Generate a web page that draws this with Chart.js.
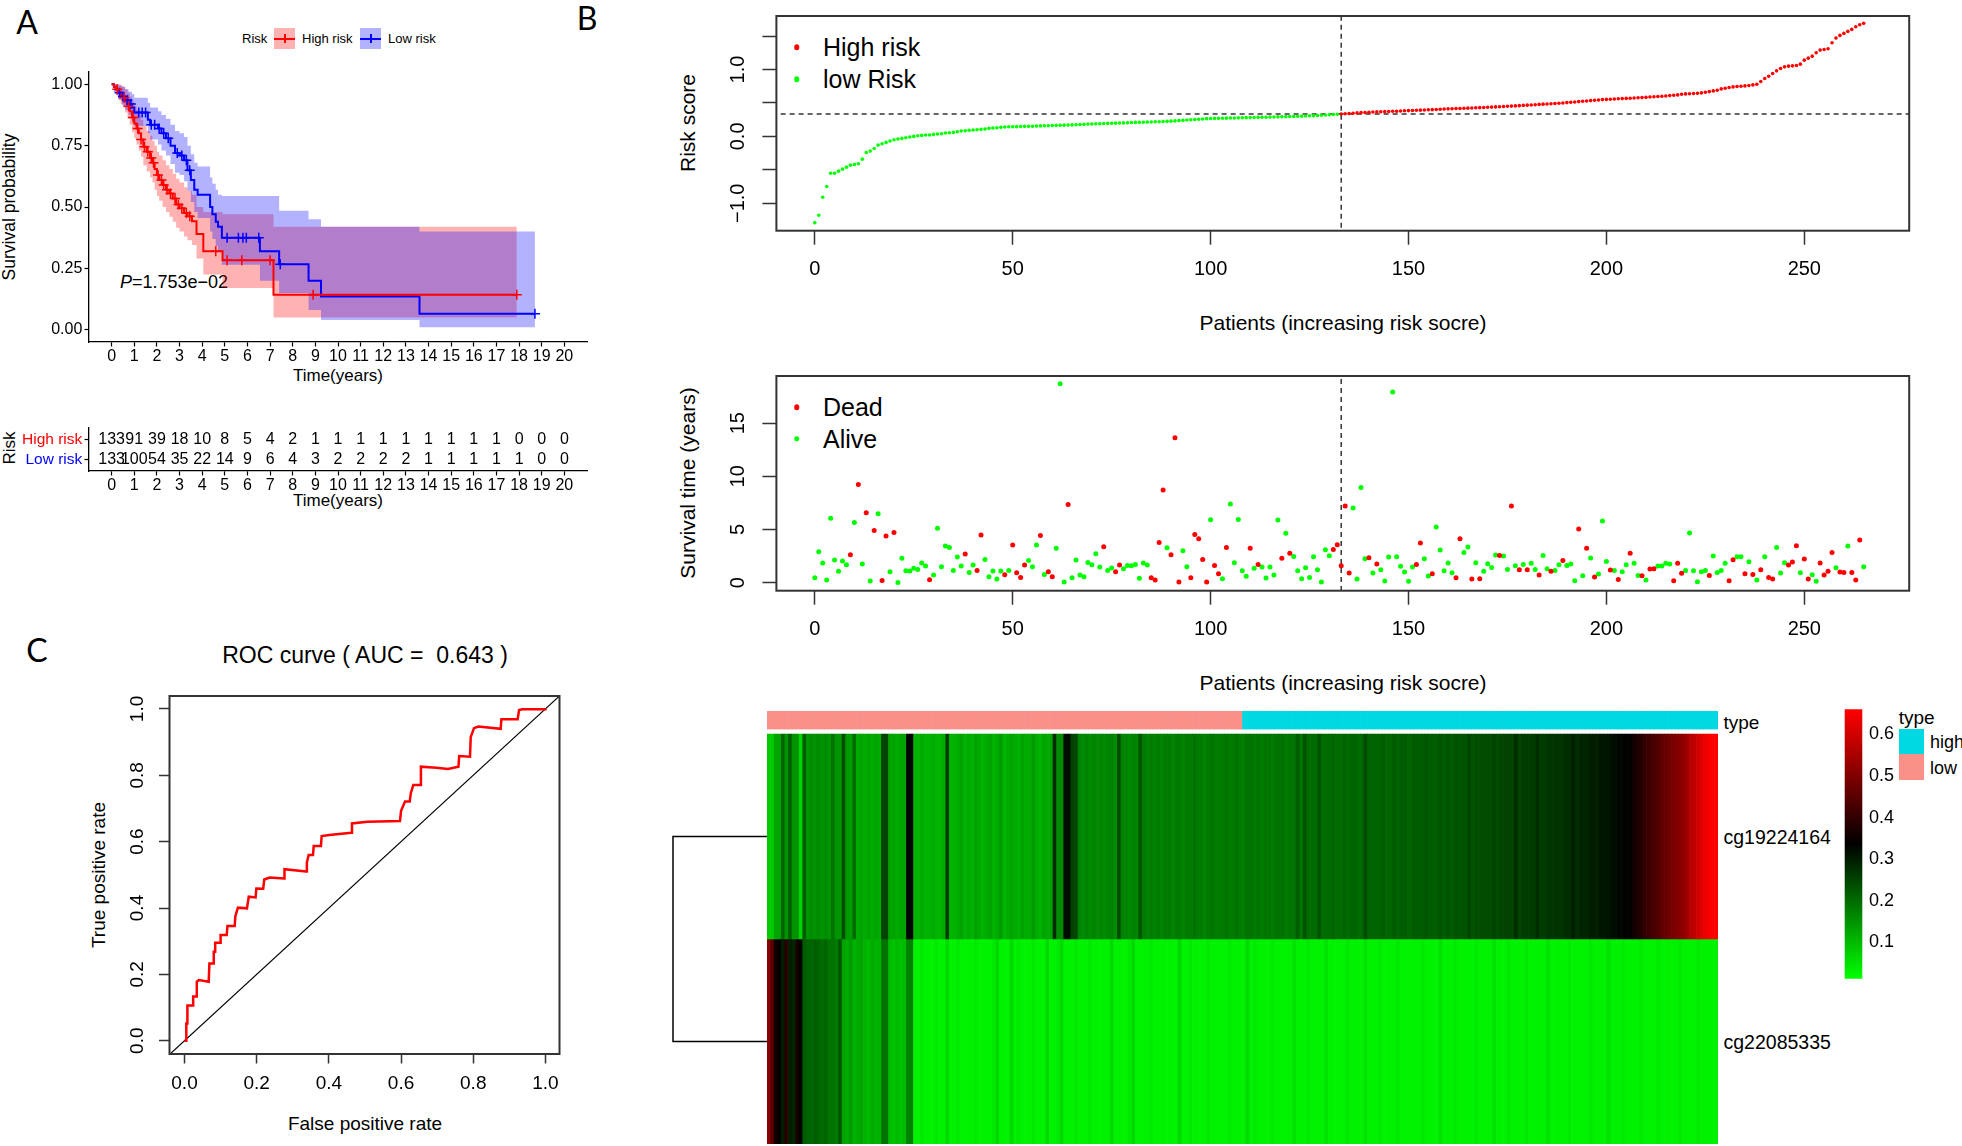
<!DOCTYPE html>
<html>
<head>
<meta charset="utf-8">
<title>Risk model figure</title>
<script src="https://cdn.jsdelivr.net/npm/chart.js@4.4.1/dist/chart.umd.min.js"></script>
<style>
  body { margin: 0; width: 1962px; height: 1146px; overflow: hidden; position: relative; background: #fff;
         font-family: "Liberation Sans", Arial, sans-serif; color: #000; }
  canvas { position: absolute; }
  .t { position: absolute; white-space: pre; line-height: 1; transform: translate(-50%, -50%); }
  .l { position: absolute; white-space: pre; line-height: 1; transform: translateY(-50%); }
  .v { position: absolute; white-space: pre; line-height: 1; transform: translate(-50%, -50%) rotate(-90deg); }
  .tag { position: absolute; font-family: Lato, "Open Sans", sans-serif; font-size: 32px; line-height: 1; transform: translate(-50%, -50%); }
  .sw { position: absolute; width: 21px; height: 21px; }
  .sw i { position: absolute; left: 0; right: 0; top: 9.5px; height: 2px; }
  .sw b { position: absolute; left: 9.5px; width: 2px; top: 6px; height: 9px; }
  .dot { position: absolute; width: 5.5px; height: 5.5px; border-radius: 50%; transform: translate(-50%, -50%); }
  .box { position: absolute; }
</style>
</head>
<body>
<!-- panel A -->
<div class="tag" style="left:27px;top:22px">A</div>
<div class="l" style="left:242px;top:38px;font-size:13px">Risk</div>
<div class="sw" style="left:274px;top:28px;background:rgba(255,0,0,.3)"><i style="background:#f00"></i><b style="background:#f00"></b></div>
<div class="l" style="left:302px;top:38px;font-size:13px">High risk</div>
<div class="sw" style="left:360px;top:28px;background:rgba(0,0,255,.3)"><i style="background:#00f"></i><b style="background:#00f"></b></div>
<div class="l" style="left:388px;top:38px;font-size:13px">Low risk</div>
<div class="v" style="left:10px;top:207px;font-size:17.5px">Survival probability</div>
<div class="t" style="left:338px;top:375px;font-size:17px">Time(years)</div>
<div class="l" style="left:120px;top:282px;font-size:18px"><i>P</i>=1.753e−02</div>
<div class="v" style="left:9px;top:448px;font-size:17px">Risk</div>
<div class="t" style="left:338px;top:500px;font-size:17px">Time(years)</div>

<!-- panel B -->
<div class="tag" style="left:587px;top:18px">B</div>
<div class="dot" style="left:796.5px;top:47.3px;background:#f00"></div>
<div class="l" style="left:823px;top:47px;font-size:25px">High risk</div>
<div class="dot" style="left:796.5px;top:79px;background:#0f0"></div>
<div class="l" style="left:823px;top:79px;font-size:25px">low Risk</div>
<div class="v" style="left:687px;top:123px;font-size:21px">Risk score</div>
<div class="t" style="left:1343px;top:322px;font-size:21px">Patients (increasing risk socre)</div>
<div class="dot" style="left:796.5px;top:407px;background:#f00"></div>
<div class="l" style="left:823px;top:407px;font-size:25px">Dead</div>
<div class="dot" style="left:796.5px;top:438.5px;background:#0f0"></div>
<div class="l" style="left:823px;top:439px;font-size:25px">Alive</div>
<div class="v" style="left:687px;top:483px;font-size:21px">Survival time (years)</div>
<div class="t" style="left:1343px;top:682px;font-size:21px">Patients (increasing risk socre)</div>

<div class="l" style="left:1723.5px;top:721.7px;font-size:19px">type</div>
<div class="l" style="left:1723.5px;top:838px;font-size:19.5px">cg19224164</div>
<div class="l" style="left:1723.5px;top:1042.7px;font-size:19.5px">cg22085335</div>
<div class="l" style="left:1898.7px;top:716.7px;font-size:19px">type</div>
<div class="box" style="left:1898.7px;top:729px;width:25.3px;height:25.3px;background:#00D8E2"></div>
<div class="box" style="left:1898.7px;top:754.3px;width:25.3px;height:25.7px;background:#FA9189"></div>
<div class="l" style="left:1930px;top:741.7px;font-size:18px">high</div>
<div class="l" style="left:1930px;top:768.3px;font-size:18px">low</div>

<!-- panel C -->
<div class="tag" style="left:37px;top:650px">C</div>
<div class="t" style="left:365px;top:655px;font-size:23px">ROC curve ( AUC =  0.643 )</div>
<div class="v" style="left:98px;top:875px;font-size:19px">True positive rate</div>
<div class="t" style="left:365px;top:1123px;font-size:19px">False positive rate</div>

<script>
// ---------- data ----------

// Kaplan-Meier, high risk group
const kmHighTime  = [0, 0.1, 0.2, 0.3, 0.4, 0.5, 0.6, 0.7, 0.8, 0.9,
                     1.0, 1.1, 1.2, 1.3, 1.4, 1.55, 1.7, 1.8, 1.9, 2.0,
                     2.1, 2.25, 2.4, 2.55, 2.7, 2.85, 3.0, 3.2, 3.35, 3.55,
                     3.75, 4.05, 4.9, 7.15, 17.9];
const kmHighSurv  = [1, 0.99, 0.98, 0.97, 0.955, 0.945, 0.93, 0.91, 0.89, 0.865,
                     0.84, 0.82, 0.8, 0.775, 0.745, 0.725, 0.7, 0.68, 0.655, 0.63,
                     0.61, 0.59, 0.57, 0.555, 0.535, 0.51, 0.495, 0.476, 0.462, 0.442,
                     0.39, 0.32, 0.283, 0.143, 0.143];
const kmHighUpper = [1, 1, 1, 1, 0.995, 0.99, 0.98, 0.965, 0.95, 0.93,
                     0.91, 0.895, 0.875, 0.855, 0.83, 0.81, 0.79, 0.77, 0.75, 0.725,
                     0.71, 0.69, 0.67, 0.655, 0.635, 0.615, 0.6, 0.58, 0.565, 0.55,
                     0.5, 0.48, 0.47, 0.42, 0.42];
const kmHighLower = [1, 0.97, 0.955, 0.94, 0.92, 0.905, 0.885, 0.86, 0.835, 0.805,
                     0.78, 0.755, 0.73, 0.705, 0.67, 0.645, 0.62, 0.6, 0.57, 0.545,
                     0.525, 0.5, 0.48, 0.46, 0.44, 0.415, 0.4, 0.38, 0.365, 0.345,
                     0.29, 0.225, 0.17, 0.05, 0.05];
const kmHighCensorT = [0.25, 0.55, 0.75, 0.95, 1.15, 1.3, 1.45, 1.6, 1.75, 1.85, 2.05, 2.2, 2.3,
                       2.45, 2.6, 2.8, 2.95, 3.1, 3.3, 3.45, 4.6, 5.1, 5.75, 7.0, 8.9, 17.9];
const kmHighCensorS = [0.98, 0.945, 0.91, 0.865, 0.82, 0.775, 0.745, 0.725, 0.7, 0.68, 0.63, 0.61, 0.59,
                       0.57, 0.555, 0.535, 0.51, 0.495, 0.476, 0.462, 0.32, 0.283, 0.283, 0.283, 0.143, 0.143];

// Kaplan-Meier, low risk group
const kmLowTime  = [0, 0.1, 0.2, 0.3, 0.45, 0.6, 0.75, 0.9, 1.0, 1.6,
                    1.7, 2.05, 2.2, 2.4, 2.6, 2.8, 3.0, 3.2, 3.35, 3.5,
                    3.65, 3.8, 4.35, 4.45, 4.6, 4.7, 4.87, 6.55, 7.4, 8.7,
                    9.25, 13.6, 18.7];
const kmLowSurv  = [1, 0.99, 0.98, 0.965, 0.95, 0.935, 0.92, 0.905, 0.885, 0.855,
                    0.835, 0.82, 0.8, 0.78, 0.75, 0.72, 0.71, 0.69, 0.65, 0.61,
                    0.57, 0.55, 0.5, 0.47, 0.44, 0.42, 0.375, 0.32, 0.267, 0.2,
                    0.135, 0.065, 0.065];
const kmLowUpper = [1, 1, 1, 0.995, 0.99, 0.98, 0.97, 0.96, 0.945, 0.925,
                    0.905, 0.89, 0.875, 0.86, 0.835, 0.81, 0.8, 0.785, 0.75, 0.715,
                    0.68, 0.665, 0.62, 0.595, 0.57, 0.55, 0.545, 0.545, 0.485, 0.45,
                    0.42, 0.4, 0.4];
const kmLowLower = [1, 0.97, 0.955, 0.935, 0.915, 0.895, 0.875, 0.855, 0.83, 0.8,
                    0.775, 0.755, 0.73, 0.71, 0.675, 0.64, 0.63, 0.605, 0.565, 0.52,
                    0.48, 0.455, 0.4, 0.37, 0.34, 0.32, 0.265, 0.2, 0.15, 0.08,
                    0.04, 0.01, 0.01];
const kmLowCensorT = [0.35, 0.5, 0.7, 0.85, 1.2, 1.35, 1.5, 1.75, 1.9, 2.1, 2.3, 2.5,
                      2.9, 3.1, 3.3, 3.45, 5.1, 5.6, 5.8, 5.95, 6.5, 7.45, 18.7];
const kmLowCensorS = [0.965, 0.95, 0.935, 0.92, 0.885, 0.885, 0.885, 0.835, 0.835, 0.82, 0.8, 0.78,
                      0.72, 0.71, 0.69, 0.65, 0.375, 0.375, 0.375, 0.375, 0.375, 0.267, 0.065];

// number at risk
const yearTicks  = [0, 1, 2, 3, 4, 5, 6, 7, 8, 9, 10, 11, 12, 13, 14, 15, 16, 17, 18, 19, 20];
const riskRows   = ['High risk', 'Low risk'];
const highAtRisk = [133, 91, 39, 18, 10, 8, 5, 4, 2, 1, 1, 1, 1, 1, 1, 1, 1, 1, 0, 0, 0];
const lowAtRisk  = [133, 100, 54, 35, 22, 14, 9, 6, 4, 3, 2, 2, 2, 2, 1, 1, 1, 1, 1, 0, 0];

// risk score per patient, sorted (first 133 are low risk)
const lowCount = 133;
const riskCutoff = 0.333;
const riskScore = [
  -1.29, -1.18, -0.91, -0.75, -0.55, -0.55, -0.52, -0.49, -0.46, -0.43,
  -0.42, -0.41, -0.34, -0.24, -0.22, -0.18, -0.13, -0.11, -0.09, -0.07,
  -0.05, -0.04, -0.03, -0.02, -0.01, 0, 0.01, 0.015, 0.02, 0.02,
  0.03, 0.035, 0.04, 0.05, 0.055, 0.06, 0.07, 0.08, 0.085, 0.09,
  0.095, 0.1, 0.105, 0.11, 0.12, 0.125, 0.13, 0.135, 0.14, 0.145,
  0.145, 0.146, 0.148, 0.15, 0.15, 0.152, 0.155, 0.157, 0.158, 0.16,
  0.162, 0.164, 0.166, 0.168, 0.17, 0.172, 0.175, 0.178, 0.18, 0.185,
  0.186, 0.188, 0.19, 0.192, 0.194, 0.196, 0.198, 0.2, 0.202, 0.205,
  0.207, 0.209, 0.21, 0.212, 0.214, 0.216, 0.218, 0.22, 0.222, 0.225,
  0.228, 0.232, 0.236, 0.24, 0.244, 0.248, 0.252, 0.256, 0.26, 0.265,
  0.267, 0.269, 0.27, 0.272, 0.273, 0.274, 0.275, 0.277, 0.278, 0.28,
  0.281, 0.283, 0.284, 0.286, 0.287, 0.289, 0.29, 0.292, 0.293, 0.295,
  0.297, 0.299, 0.301, 0.303, 0.305, 0.308, 0.31, 0.313, 0.316, 0.319,
  0.323, 0.327, 0.331,
  0.335, 0.339, 0.343, 0.347, 0.351, 0.355, 0.358,
  0.361, 0.364, 0.366, 0.368, 0.37, 0.372, 0.375, 0.377, 0.38, 0.383,
  0.386, 0.388, 0.39, 0.392, 0.395, 0.398, 0.4, 0.403, 0.406, 0.41,
  0.412, 0.414, 0.416, 0.418, 0.42, 0.422, 0.425, 0.428, 0.43, 0.433,
  0.436, 0.438, 0.441, 0.444, 0.447, 0.45, 0.453, 0.456, 0.46, 0.463,
  0.467, 0.47, 0.474, 0.478, 0.482, 0.485, 0.489, 0.492, 0.496, 0.5,
  0.505, 0.51, 0.515, 0.52, 0.525, 0.53, 0.535, 0.54, 0.545, 0.55,
  0.553, 0.556, 0.559, 0.562, 0.565, 0.568, 0.571, 0.574, 0.577, 0.58,
  0.584, 0.588, 0.592, 0.596, 0.6, 0.605, 0.61, 0.615, 0.62, 0.63,
  0.635, 0.638, 0.642, 0.646, 0.65, 0.66, 0.67, 0.68, 0.69, 0.71,
  0.72, 0.73, 0.74, 0.745, 0.75, 0.755, 0.76, 0.77, 0.78, 0.82,
  0.865, 0.9, 0.94, 0.98, 1.015, 1.04, 1.05, 1.055, 1.06, 1.08,
  1.14, 1.17, 1.2, 1.25, 1.29, 1.3, 1.31, 1.4, 1.47, 1.51,
  1.54, 1.57, 1.6, 1.64, 1.67, 1.69
];

// survival time (years) and status (1 = dead) in the same patient order
const survTime = [
  0.47, 2.91, 1.85, 0.25, 6.05, 2.13, 1.07, 2.04, 1.69, 2.63,
  5.67, 9.24, 1.75, 6.58, 0.16, 4.92, 6.48, 0.22, 4.39, 1.03,
  4.73, 0.03, 2.29, 1.13, 1.1, 1.35, 1.25, 1.85, 1.57, 0.28,
  0.72, 5.11, 1.5, 3.45, 3.32, 1.16, 2.41, 1.57, 2.69, 0.97,
  1.66, 1.16, 4.48, 2.19, 0.56, 1.1, 0.34, 1.1, 0.75, 1.16,
  3.54, 0.94, 0.5, 1.66, 2.1, 1.5, 3.54, 4.45, 0.78, 1.03,
  0.56, 3.23, 18.7, 0.06, 7.36, 0.47, 2.13, 0.72, 0.56, 1.91,
  1.69, 2.73, 1.47, 3.38, 1.16, 1.38, 1.03, 1.66, 1.32, 1.63,
  1.6, 1.72, 0.41, 1.85, 1.66, 0.47, 0.25, 3.79, 8.71, 3.29,
  2.63, 13.63, 0.06, 3.0, 1.5, 0.47, 4.54, 4.14, 2.19, 0.06,
  5.92, 1.63, 0.85, 0.38, 3.32, 7.39, 1.88, 5.95, 1.13, 0.6,
  3.23, 1.35, 1.72, 1.47, 0.44, 1.47, 0.72, 5.89, 2.29, 4.64,
  2.76, 2.47, 1.13, 0.38, 1.41, 0.5, 2.44, 1.22, 0.06, 3.1,
  2.54, 3.13, 3.57, 1.6, 7.21, 0.91, 7.02, 0.34, 8.96, 2.26,
  2.35, 0.91, 1.75, 1.22, 0.16, 2.41, 17.92, 2.44, 1.54, 1.0,
  0.13, 1.47, 1.72, 3.73, 2.26, 0.63, 0.85, 5.23, 3.07, 1.13,
  1.85, 0.94, 0.47, 4.14, 2.85, 3.35, 0.34, 1.88, 0.38, 1.07,
  1.79, 1.44, 2.6, 2.57, 2.5, 1.25, 7.21, 1.6, 1.22, 1.72,
  1.22, 1.82, 1.25, 0.72, 2.57, 1.32, 1.07, 1.16, 1.69, 2.1,
  1.63, 1.75, 0.19, 5.04, 0.66, 3.23, 2.32, 0.53, 0.81, 5.8,
  2.0, 1.19, 1.16, 0.31, 1.03, 1.69, 2.76, 1.82, 0.69, 0.66,
  0.25, 1.28, 1.32, 1.57, 1.57, 1.82, 1.75, 0.19, 1.82, 0.88,
  1.16, 4.67, 1.13, 0.09, 1.03, 1.16, 0.69, 2.51, 0.97, 1.16,
  1.82, 0.19, 2.16, 2.44, 2.44, 0.85, 1.97, 0.78, 0.25, 1.22,
  2.44, 0.5, 0.34, 3.32, 0.91, 1.88, 1.66, 1.94, 3.48, 0.94,
  2.22, 0.34, 0.75, 0.13, 1.85, 0.72, 1.07, 2.85, 1.41, 1.0,
  0.97, 3.45, 0.97, 0.25, 4.01, 1.5
];
const survStatus = [
  0, 0, 0, 0, 0, 0, 0, 0, 0, 1,  0, 1, 0, 1, 0, 1, 0, 1, 1, 0,
  1, 0, 0, 0, 0, 0, 0, 0, 0, 1,  0, 0, 0, 0, 0, 0, 0, 0, 1, 0,
  0, 1, 1, 0, 0, 0, 0, 0, 1, 0,  1, 1, 1, 1, 0, 0, 0, 1, 0, 1,
  1, 0, 0, 0, 1, 0, 0, 0, 0, 0,  0, 0, 0, 1, 0, 0, 1, 1, 0, 0,
  0, 0, 0, 0, 0, 1, 1, 1, 1, 0,  1, 1, 1, 0, 0, 1, 1, 1, 1, 1,
  0, 1, 1, 0, 1, 0, 0, 0, 0, 0,  1, 0, 1, 0, 0, 0, 0, 0, 1, 0,
  1, 0, 0, 0, 0, 0, 0, 0, 0, 0,  0, 1, 1, 1, 1, 1, 0, 0, 0, 0,
  1, 0, 1, 0, 0, 0, 0, 0, 0, 0,  0, 0, 1, 1, 0, 0, 1, 0, 0, 0,
  0, 0, 1, 1, 0, 0, 1, 0, 1, 0,  0, 0, 0, 1, 0, 0, 1, 0, 1, 0,
  1, 0, 0, 1, 0, 0, 1, 0, 0, 1,  0, 0, 0, 1, 0, 1, 0, 1, 0, 0,
  0, 1, 0, 1, 0, 0, 1, 0, 0, 1,  0, 1, 1, 0, 0, 0, 0, 1, 1, 1,
  0, 0, 0, 0, 0, 0, 1, 0, 0, 0,  0, 1, 1, 0, 0, 1, 0, 1, 0, 1,
  0, 1, 1, 0, 0, 0, 1, 1, 1, 0,  1, 1, 0, 0, 1, 1, 1, 1, 0, 1,
  1, 0, 1, 1, 1, 0
];

// methylation heatmap, one value per patient (same order)
const cg19224164 = [
  .08,.08,.13,.13,.21,.15,.22,.15,.15,.07, .22,.15,.16,.15,.16,.15,.16,.15,.19,.15,
  .15,.24,.14,.14,.20,.12,.13,.12,.13,.12, .13,.12,.25,.25,.13,.13,.12,.13,.13,.33,
  .33,.11,.11,.12,.11,.11,.12,.11,.11,.12, .26,.11,.11,.12,.13,.11,.12,.11,.13,.12,
  .11,.12,.13,.11,.12,.14,.11,.12,.13,.12, .11,.13,.12,.12,.14,.12,.11,.13,.12,.13,
  .28,.16,.16,.32,.32,.25,.25,.17,.16,.17, .16,.17,.16,.17,.16,.17,.17,.16,.24,.17,
  .17,.16,.17,.17,.23,.18,.17,.18,.17,.18, .17,.18,.18,.17,.18,.18,.17,.18,.18,.19,
  .18,.18,.17,.18,.19,.18,.18,.18,.19,.18, .18,.19,.18,.18,.19,.19,.18,.19,.18,.19,
  .19,.18,.19,.19,.19,.18,.19,.19,.22,.19, .23,.20,.20,.20,.23,.20,.20,.20,.21,.20,
  .20,.21,.20,.21,.21,.20,.21,.24,.21,.21, .21,.21,.22,.21,.21,.22,.21,.22,.22,.21,
  .22,.22,.22,.22,.23,.22,.22,.22,.23,.22, .23,.22,.23,.23,.23,.23,.25,.23,.24,.24,
  .24,.24,.24,.25,.24,.25,.25,.25,.25,.28, .25,.26,.26,.26,.26,.28,.26,.26,.27,.27,
  .27,.27,.27,.28,.28,.30,.28,.29,.29,.29, .30,.30,.30,.31,.31,.31,.32,.32,.33,.33,
  .34,.34,.36,.37,.38,.40,.41,.42,.43,.44, .46,.47,.48,.49,.50,.51,.52,.54,.57,.58,
  .60,.62,.64,.65,.66,.66
];
const cg22085335 = [
  .51,.45,.36,.34,.30,.39,.30,.29,.37,.33, .22,.21,.21,.22,.21,.20,.21,.19,.19,.18,
  .23,.13,.12,.14,.11,.12,.13,.11,.10,.12, .11,.11,.19,.19,.10,.09,.10,.09,.10,.17,
  .17,.03,.03,.04,.03,.03,.03,.04,.03,.03, .06,.03,.03,.04,.03,.03,.03,.03,.04,.03,
  .03,.03,.03,.04,.06,.03,.03,.03,.06,.03, .04,.03,.03,.03,.04,.03,.03,.03,.06,.03,
  .03,.04,.06,.03,.03,.03,.04,.03,.03,.03, .04,.03,.03,.03,.03,.03,.06,.03,.03,.03,
  .03,.04,.06,.03,.03,.03,.03,.04,.03,.03, .03,.03,.03,.03,.03,.06,.03,.03,.04,.03,
  .03,.03,.03,.04,.03,.03,.03,.03,.03,.04, .03,.03,.03,.03,.06,.03,.04,.03,.03,.03,
  .03,.04,.03,.03,.03,.03,.03,.05,.03,.03, .03,.04,.03,.03,.03,.03,.05,.03,.03,.03,
  .03,.03,.04,.03,.03,.03,.03,.05,.03,.03, .03,.04,.03,.03,.03,.03,.04,.03,.03,.03,
  .03,.03,.03,.04,.03,.03,.03,.03,.05,.03, .03,.03,.04,.03,.03,.03,.03,.03,.04,.03,
  .03,.03,.03,.05,.03,.03,.03,.04,.03,.03, .03,.03,.04,.03,.03,.03,.03,.03,.05,.03,
  .03,.03,.03,.03,.04,.03,.03,.03,.03,.03, .04,.03,.03,.03,.03,.05,.03,.03,.03,.04,
  .03,.03,.03,.03,.04,.03,.03,.03,.03,.04, .03,.03,.03,.03,.03,.04,.03,.03,.03,.03,
  .04,.03,.03,.03,.03,.03
];
const colorRange = [0.013, 0.66];
const colorTicks = [0.1, 0.2, 0.3, 0.4, 0.5, 0.6];
const typeColors = { low: '#FA9189', high: '#00D8E2' };
const rowClusterHeight = 1;

// ROC curve
const rocFpr = [0, 0.005, 0.005, 0.008, 0.008, 0.024, 0.024, 0.032, 0.034, 0.04,
                0.067, 0.069, 0.08, 0.081, 0.085, 0.085, 0.099, 0.1, 0.117, 0.119,
                0.139, 0.141, 0.148, 0.173, 0.178, 0.197, 0.199, 0.218, 0.221, 0.236,
                0.276, 0.277, 0.337, 0.339, 0.344, 0.356, 0.358, 0.378, 0.38, 0.401,
                0.462, 0.464, 0.507, 0.597, 0.6, 0.611, 0.624, 0.627, 0.634, 0.653,
                0.655, 0.698, 0.73, 0.759, 0.761, 0.791, 0.793, 0.802, 0.814, 0.876,
                0.878, 0.923, 0.927, 0.936, 1.0, 1.0];
const rocTpr = [0, 0, 0.052, 0.052, 0.106, 0.106, 0.133, 0.133, 0.178, 0.183,
                0.178, 0.233, 0.233, 0.268, 0.268, 0.295, 0.295, 0.319, 0.319, 0.346,
                0.346, 0.376, 0.401, 0.399, 0.434, 0.432, 0.459, 0.458, 0.486, 0.492,
                0.489, 0.517, 0.51, 0.537, 0.56, 0.56, 0.587, 0.587, 0.617, 0.62,
                0.627, 0.655, 0.66, 0.662, 0.693, 0.721, 0.721, 0.746, 0.771, 0.771,
                0.826, 0.823, 0.819, 0.826, 0.858, 0.856, 0.915, 0.942, 0.947, 0.94,
                0.969, 0.969, 0.997, 0.999, 0.999, 1.0];
const unitTicks = [0, 0.2, 0.4, 0.6, 0.8, 1.0];

const patientTicks = [0, 50, 100, 150, 200, 250];
const riskTicks = [-1, -0.5, 0, 0.5, 1, 1.5];
const survTicks = [0, 5, 10, 15];

// ---------- helpers ----------
Chart.defaults.font.family = '"Liberation Sans", Arial, sans-serif';
Chart.defaults.color = '#000';
Chart.defaults.animation = false;
Chart.defaults.responsive = false;
Chart.defaults.plugins.legend.display = false;
Chart.defaults.plugins.tooltip.enabled = false;

function panel(x, y, w, h) {
  const c = document.createElement('canvas');
  c.width = w; c.height = h;
  Object.assign(c.style, { left: x + 'px', top: y + 'px', width: w + 'px', height: h + 'px' });
  document.body.appendChild(c);
  return c;
}
// fixed axis sizes so the plot region lands where it is in the figure
const fixW = w => s => { s.width = w; s.paddingTop = 0; s.paddingBottom = 0; };
const fixH = h => s => { s.height = h; s.paddingLeft = 0; s.paddingRight = 0; };
const setTicks = vals => s => { s.ticks = vals.map(v => ({ value: v })); };
const pts = (xs, ys) => xs.map((x, i) => ({ x, y: ys[i] }));
const minus = s => s.replace('-', '\u2212');

// R style box around the plot region
const frame = {
  id: 'frame',
  afterDatasetsDraw(chart) {
    const { ctx, chartArea: a } = chart;
    ctx.save();
    ctx.strokeStyle = '#333';
    ctx.lineWidth = 2;
    ctx.strokeRect(a.left, a.top, a.right - a.left, a.bottom - a.top);
    ctx.restore();
  }
};

const rTicks = tl => ({ drawOnChartArea: false, tickLength: tl, tickWidth: 1.5, tickColor: '#333' });
const dashed = data => ({ type: 'line', data, borderColor: '#333', borderWidth: 1.5,
                          borderDash: [5, 4], pointRadius: 0 });

// ---------- A: Kaplan-Meier ----------
const noLine = { stepped: true, borderWidth: 0, borderColor: 'rgba(0,0,0,0)', pointRadius: 0 };
new Chart(panel(0, 60, 600, 330), {
  type: 'line',
  data: {
    datasets: [
      { type: 'scatter', data: pts(kmHighCensorT, kmHighCensorS), pointStyle: 'cross', pointRadius: 5,
        borderColor: '#ff0000', borderWidth: 1.5 },
      { type: 'scatter', data: pts(kmLowCensorT, kmLowCensorS), pointStyle: 'cross', pointRadius: 5,
        borderColor: '#0000ff', borderWidth: 1.5 },
      { data: pts(kmHighTime, kmHighSurv), stepped: true, borderColor: '#ff0000', borderWidth: 2, pointRadius: 0 },
      { data: pts(kmLowTime, kmLowSurv), stepped: true, borderColor: '#0000ff', borderWidth: 2, pointRadius: 0 },
      { data: pts(kmLowTime, kmLowUpper), ...noLine, fill: false },
      { data: pts(kmLowTime, kmLowLower), ...noLine, fill: '-1', backgroundColor: 'rgba(0,0,255,0.3)' },
      { data: pts(kmHighTime, kmHighUpper), ...noLine, fill: false },
      { data: pts(kmHighTime, kmHighLower), ...noLine, fill: '-1', backgroundColor: 'rgba(255,0,0,0.3)' }
    ]
  },
  options: {
    layout: { padding: { left: 0, top: 12, right: 13, bottom: 0 } },
    scales: {
      x: { type: 'linear', min: -1, max: 21, afterBuildTicks: setTicks(yearTicks), afterFit: fixH(48),
           grid: { drawOnChartArea: false, tickLength: 4.5, tickWidth: 1.2, tickColor: '#000' },
           border: { color: '#000', width: 1.3 },
           ticks: { font: { size: 16 }, padding: 0, autoSkip: false, maxRotation: 0 } },
      y: { min: -0.05, max: 1.05, afterBuildTicks: setTicks([0, 0.25, 0.5, 0.75, 1]), afterFit: fixW(89),
           grid: { drawOnChartArea: false, tickLength: 4.5, tickWidth: 1.2, tickColor: '#000' },
           border: { color: '#000', width: 1.3 },
           ticks: { font: { size: 16 }, padding: 2.2, callback: v => v.toFixed(2) } }
    }
  }
});

// ---------- A: number at risk ----------
const countLabels = {
  id: 'countLabels',
  afterDatasetsDraw(chart) {
    const ctx = chart.ctx;
    ctx.save();
    ctx.font = '16px "Liberation Sans", Arial';
    ctx.fillStyle = '#000';
    ctx.textAlign = 'center';
    ctx.textBaseline = 'middle';
    chart.data.datasets.forEach((ds, i) => {
      chart.getDatasetMeta(i).data.forEach((p, j) => ctx.fillText(String(ds.data[j].n), p.x, p.y));
    });
    ctx.restore();
  }
};
new Chart(panel(0, 415, 600, 85), {
  type: 'scatter',
  data: {
    datasets: [
      { data: yearTicks.map((t, j) => ({ x: t, y: 1, n: highAtRisk[j] })), pointRadius: 0 },
      { data: yearTicks.map((t, j) => ({ x: t, y: 2, n: lowAtRisk[j] })), pointRadius: 0 }
    ]
  },
  options: {
    layout: { padding: { left: 0, top: 13, right: 13, bottom: 0 } },
    scales: {
      x: { type: 'linear', min: -1, max: 21, afterBuildTicks: setTicks(yearTicks), afterFit: fixH(29),
           grid: { drawOnChartArea: false, tickLength: 4.5, tickWidth: 1.2, tickColor: '#000' },
           border: { color: '#000', width: 1.3 },
           ticks: { font: { size: 16 }, padding: 0, autoSkip: false, maxRotation: 0 } },
      y: { min: 0.4, max: 2.6, reverse: true, afterBuildTicks: setTicks([1, 2]), afterFit: fixW(89),
           grid: { drawOnChartArea: false, tickLength: 4.5, tickWidth: 1.2, tickColor: '#000' },
           border: { color: '#000', width: 1.3 },
           ticks: { font: { size: 15.5 }, padding: 2.2, callback: v => riskRows[v - 1],
                    color: c => (c.tick && c.tick.value === 1 ? '#ff0000' : '#0000ff') } }
    }
  },
  plugins: [countLabels]
});

// ---------- B: risk score ----------
const riskPts = riskScore.map((v, i) => ({ x: i, y: v }));
new Chart(panel(700, 0, 1230, 300), {
  type: 'scatter',
  data: {
    datasets: [
      { data: riskPts.slice(0, lowCount), backgroundColor: '#00ff00', pointRadius: 1.8, borderWidth: 0 },
      { data: riskPts.slice(lowCount), backgroundColor: '#ff0000', pointRadius: 1.8, borderWidth: 0 },
      dashed([{ x: -20, y: riskCutoff }, { x: 300, y: riskCutoff }]),
      dashed([{ x: lowCount, y: -5 }, { x: lowCount, y: 5 }])
    ]
  },
  options: {
    layout: { padding: { left: 0, top: 16, right: 20.8, bottom: 0 } },
    scales: {
      x: { type: 'linear', min: -9.7, max: 276.5, afterBuildTicks: setTicks(patientTicks), afterFit: fixH(69.3),
           grid: rTicks(14), border: { display: false },
           ticks: { font: { size: 20 }, padding: 13, autoSkip: false, maxRotation: 0 } },
      y: { min: -1.41, max: 1.8, afterBuildTicks: setTicks(riskTicks), afterFit: fixW(76.4),
           grid: rTicks(14), border: { display: false },
           ticks: { font: { size: 20 }, minRotation: 90, maxRotation: 90, crossAlign: 'center', padding: 4.2,
                    callback: v => (Number.isInteger(v) ? minus(v.toFixed(1)) : '') } }
    }
  },
  plugins: [frame]
});

// ---------- B: survival time ----------
const survPts = survTime.map((v, i) => ({ x: i, y: v, dead: survStatus[i] }));
new Chart(panel(700, 360, 1230, 300), {
  type: 'scatter',
  data: {
    datasets: [
      { data: survPts.filter(p => p.dead === 1), backgroundColor: '#ff0000', pointRadius: 2.5, borderWidth: 0 },
      { data: survPts.filter(p => p.dead === 0), backgroundColor: '#00ff00', pointRadius: 2.5, borderWidth: 0 },
      dashed([{ x: lowCount, y: -5 }, { x: lowCount, y: 30 }])
    ]
  },
  options: {
    layout: { padding: { left: 0, top: 16, right: 20.8, bottom: 0 } },
    scales: {
      x: { type: 'linear', min: -9.7, max: 276.5, afterBuildTicks: setTicks(patientTicks), afterFit: fixH(69.3),
           grid: rTicks(14), border: { display: false },
           ticks: { font: { size: 20 }, padding: 13, autoSkip: false, maxRotation: 0 } },
      y: { min: -0.75, max: 19.43, afterBuildTicks: setTicks(survTicks), afterFit: fixW(76.4),
           grid: rTicks(14), border: { display: false },
           ticks: { font: { size: 20 }, minRotation: 90, maxRotation: 90, crossAlign: 'center', padding: 12.8 } }
    }
  },
  plugins: [frame]
});

// ---------- B: heatmap ----------
function heatColor(v) {
  const [lo, hi] = colorRange;
  const mid = (lo + hi) / 2;
  if (v <= mid) {
    const g = Math.round(255 * Math.min(1, Math.max(0, (mid - v) / (mid - lo))));
    return `rgb(0,${g},0)`;
  }
  const r = Math.round(255 * Math.min(1, (v - mid) / (hi - mid)));
  return `rgb(${r},0,0)`;
}
const patients = riskScore.map((_, i) => i);
new Chart(panel(767, 711, 951, 433), {
  type: 'bar',
  data: {
    labels: patients,
    datasets: [
      { data: patients.map(() => [2.024, 2.112]),
        backgroundColor: patients.map(i => (i < lowCount ? typeColors.low : typeColors.high)) },
      { data: patients.map(() => [1, 2]), backgroundColor: cg19224164.map(heatColor) },
      { data: patients.map(() => [0, 1]), backgroundColor: cg22085335.map(heatColor) }
    ]
  },
  options: {
    datasets: { bar: { grouped: false, barPercentage: 1, categoryPercentage: 1, borderWidth: 0 } },
    layout: { padding: 0 },
    scales: { x: { display: false }, y: { display: false, min: 0, max: 2.112 } }
  }
});

// row dendrogram
new Chart(panel(660, 734, 108, 410), {
  type: 'line',
  data: {
    datasets: [{
      data: [{ x: 0, y: 1.5 }, { x: rowClusterHeight, y: 1.5 }, { x: rowClusterHeight, y: 0.5 }, { x: 0, y: 0.5 }],
      borderColor: '#000', borderWidth: 1.5, pointRadius: 0, clip: false
    }]
  },
  options: {
    layout: { padding: { left: 13, right: 1, top: 0, bottom: 0 } },
    scales: { x: { type: 'linear', display: false, reverse: true, min: 0, max: rowClusterHeight },
              y: { display: false, min: 0, max: 2 } }
  }
});

// colour key
new Chart(panel(1840, 700, 100, 290), {
  type: 'bar',
  data: {
    labels: [''],
    datasets: [{
      data: [colorRange],
      barPercentage: 1, categoryPercentage: 1, borderWidth: 0,
      backgroundColor: c => {
        const ch = c.chart;
        if (!ch.chartArea) return '#000';
        const ys = ch.scales.y;
        const g = ch.ctx.createLinearGradient(0, ys.getPixelForValue(colorRange[0]), 0, ys.getPixelForValue(colorRange[1]));
        g.addColorStop(0, '#00ff00');
        g.addColorStop(0.5, '#000000');
        g.addColorStop(1, '#ff0000');
        return g;
      }
    }]
  },
  options: {
    layout: { padding: { left: 4.6, top: 9.3, right: 0, bottom: 11.3 } },
    scales: {
      x: { display: false },
      y: { position: 'right', min: colorRange[0], max: colorRange[1], afterBuildTicks: setTicks(colorTicks),
           afterFit: fixW(77.6), grid: { display: false, drawTicks: false }, border: { display: false },
           ticks: { font: { size: 18 }, padding: 6.6, callback: v => v.toFixed(1) } }
    }
  }
});

// ---------- C: ROC ----------
new Chart(panel(100, 680, 480, 440), {
  type: 'line',
  data: {
    datasets: [
      { data: pts(rocFpr, rocTpr), borderColor: '#ff0000', borderWidth: 2.5, pointRadius: 0 },
      { data: [{ x: -1, y: -1 }, { x: 2, y: 2 }], borderColor: '#000', borderWidth: 1.2, pointRadius: 0 }
    ]
  },
  options: {
    layout: { padding: { left: 0, top: 16, right: 20.5, bottom: 0 } },
    scales: {
      x: { type: 'linear', min: -0.0416, max: 1.039, afterBuildTicks: setTicks(unitTicks), afterFit: fixH(66),
           grid: rTicks(9.5), border: { display: false },
           ticks: { font: { size: 19 }, padding: 8.6, autoSkip: false, maxRotation: 0, callback: v => v.toFixed(1) } },
      y: { min: -0.04, max: 1.039, afterBuildTicks: setTicks(unitTicks), afterFit: fixW(69.5),
           grid: rTicks(10.5), border: { display: false },
           ticks: { font: { size: 19 }, minRotation: 90, maxRotation: 90, crossAlign: 'center', padding: 7.8,
                    callback: v => v.toFixed(1) } }
    }
  },
  plugins: [frame]
});
</script>
</body>
</html>
